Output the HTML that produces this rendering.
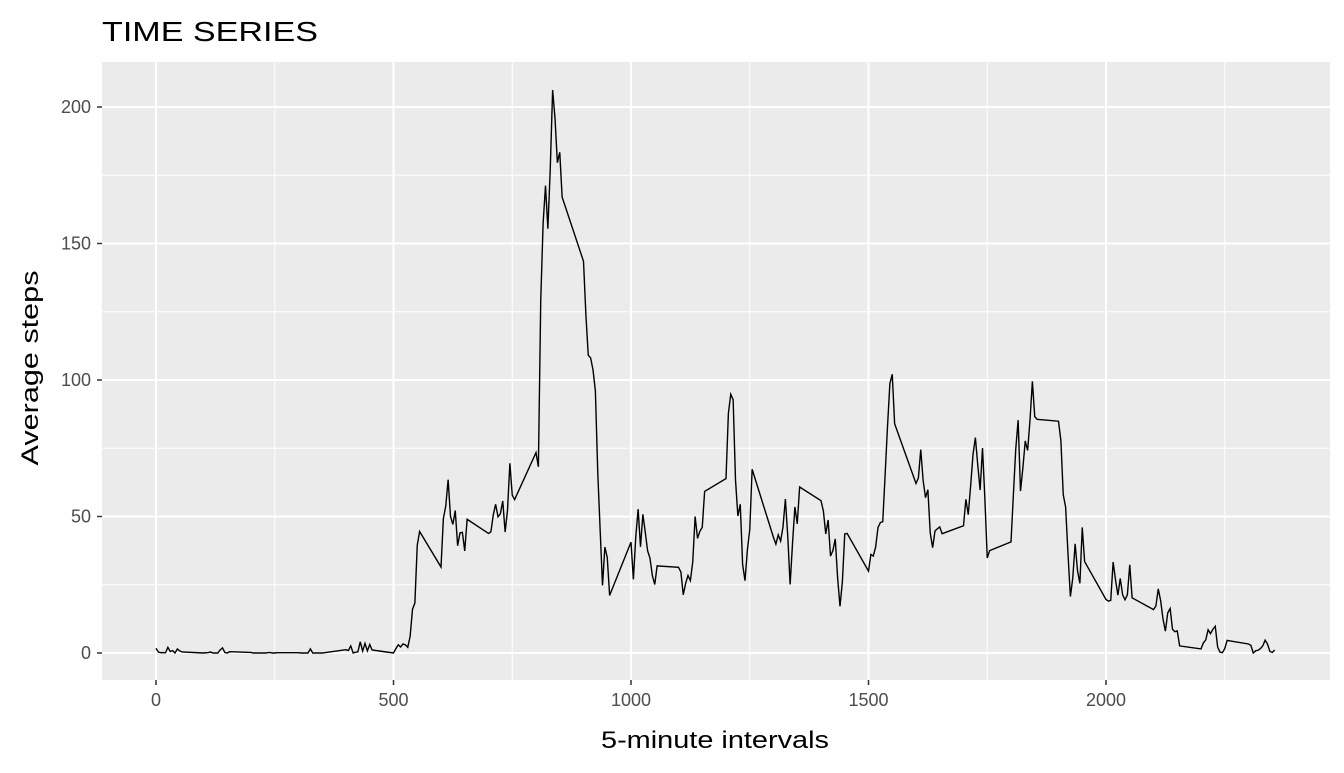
<!DOCTYPE html>
<html><head><meta charset="utf-8"><style>
body{margin:0;background:#fff;font-family:"Liberation Sans",sans-serif}
</style></head><body>
<svg width="1344" height="768" id="c" xmlns="http://www.w3.org/2000/svg">
<text x="102" y="41" font-size="28" textLength="216" lengthAdjust="spacingAndGlyphs" fill="#000">TIME SERIES</text>
<rect x="102" y="62" width="1228" height="618" fill="#ebebeb"/>
<g id="grid"></g>
<path id="line" fill="none" stroke="#000" stroke-width="1.4"/>
<g id="ticks"></g>
<text x="715" y="748" font-size="24" textLength="228" lengthAdjust="spacingAndGlyphs" text-anchor="middle">5-minute intervals</text>
<text transform="translate(38,368) rotate(-90)" font-size="24" textLength="195" lengthAdjust="spacingAndGlyphs" text-anchor="middle">Average steps</text>
</svg>
<script>
const hourValues = [
[1.72,0.34,0.13,0.15,0.08,2.09,0.53,0.87,0,1.47,0.75,0.38],
[0,0.09,0.17,0.36,0,0,0,1.11,1.89,0.17,0,0.47],
[0.2,0,0,0,0,0,0,0.1,0.2,0,0,0.1],
[0.1,0,0,0,0,1.5,0,0,0,0,0,0.1],
[1.2,0.9,2.6,0,0.3,0.4,4.1,0.7,3.5,0.8,3.1,1.1],
[0,1.6,3.0,2.2,3.3,3.0,2.1,6.1,16.0,18.3,39.5,44.5],
[31.5,49.3,53.8,63.5,50.0,47.1,52.2,39.3,44.0,44.2,37.4,49.0],
[43.8,44.4,50.5,54.5,49.9,51.0,55.7,44.3,52.3,69.5,57.8,56.2],
[73.4,68.2,129.4,157.5,171.2,155.4,177.3,206.2,195.9,179.6,183.4,167.0],
[143.5,124.0,109.1,108.1,103.7,96.0,66.2,45.2,24.8,38.8,35.0,21.1],
[40.6,27.0,42.4,52.7,38.9,50.8,44.3,37.4,34.7,28.3,25.1,31.9],
[31.4,29.7,21.3,25.5,28.4,26.5,33.4,50.0,42.0,44.6,46.0,59.2],
[63.9,87.7,94.8,92.8,63.4,50.2,54.5,32.4,26.5,37.7,45.1,67.3],
[42.3,39.9,43.3,41.0,46.2,56.4,42.8,25.1,40.0,53.5,47.3,60.8],
[55.8,52.0,43.6,48.7,35.5,37.5,41.8,27.5,17.1,26.1,43.6,43.8],
[30.0,36.1,35.5,38.8,46.0,47.8,48.1,65.3,82.9,98.7,102.1,84.0],
[62.1,64.1,74.5,63.2,56.9,59.8,43.9,38.6,44.7,45.5,46.2,43.7],
[46.6,56.3,50.7,61.2,72.7,78.9,68.9,59.7,75.1,56.5,34.8,37.5],
[40.7,58.0,74.7,85.3,59.3,67.8,77.7,74.2,85.3,99.5,86.6,85.6],
[84.9,77.8,58.0,53.4,36.3,20.7,27.4,40.0,30.2,25.5,46.0,33.5],
[19.6,19.0,19.3,33.3,26.8,21.2,27.3,21.3,19.5,21.3,32.3,20.2],
[15.9,17.2,23.5,19.2,12.5,8.0,14.7,16.3,8.7,7.8,8.1,2.6],
[1.5,3.7,4.8,8.5,7.1,8.7,9.8,2.2,0.3,0.1,1.6,4.6],
[3.3,2.8,0,0.8,1.0,1.6,2.6,4.7,3.3,0.6,0.2,1.1]
];
const xTicks = [0,500,1000,1500,2000];
const yTicks = [0,50,100,150,200];
const xMinor = [250,750,1250,1750,2250];
const yMinor = [25,75,125,175];

const X = v => 156 + v * (1106-156)/2000;
const Y = v => 653 - v * (653-107)/200;
const NS = "http://www.w3.org/2000/svg";
const grid = document.getElementById('grid'), ticks = document.getElementById('ticks');
function ln(p,x1,y1,x2,y2,w,c){const l=document.createElementNS(NS,'line');l.setAttribute('x1',x1);l.setAttribute('y1',y1);l.setAttribute('x2',x2);l.setAttribute('y2',y2);l.setAttribute('stroke',c);l.setAttribute('stroke-width',w);p.appendChild(l);return l;}
function tx(p,x,y,s,a){const t=document.createElementNS(NS,'text');t.setAttribute('x',x);t.setAttribute('y',y);t.setAttribute('font-size',18);t.setAttribute('fill','#4d4d4d');t.setAttribute('text-anchor',a);t.textContent=s;p.appendChild(t);return t;}
yMinor.forEach(v=>{const l=ln(grid,102,Y(v),1330,Y(v),1,'#fff');

});
xMinor.forEach(v=>{const l=ln(grid,X(v),62,X(v),680,1,'#fff');

});
yTicks.forEach(v=>{const l=ln(grid,102,Y(v),1330,Y(v),2,'#fff');


ln(ticks,97,Y(v),102,Y(v),1.5,'#333');
const t=tx(ticks,91,Y(v)+6,String(v),'end');

});
xTicks.forEach(v=>{const l=ln(grid,X(v),62,X(v),680,2,'#fff');


ln(ticks,X(v),680,X(v),685,1.5,'#333');
const t=tx(ticks,X(v),706,String(v),'middle');

});
let d='';
hourValues.forEach((row,h)=>row.forEach((v,i)=>{const iv=h*100+i*5;d+=(d?'L':'M')+X(iv).toFixed(2)+','+Y(v).toFixed(2);}));
document.getElementById('line').setAttribute('d',d);
</script>
</body></html>
